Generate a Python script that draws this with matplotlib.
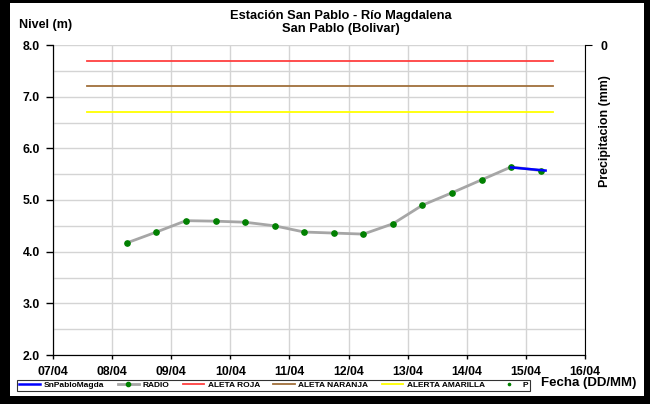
import matplotlib
matplotlib.use("Agg")
import matplotlib.pyplot as plt
import matplotlib.dates as mdates
from matplotlib.patches import Rectangle
from datetime import datetime

plt.rcParams['font.family'] = ['Liberation Sans', 'DejaVu Sans']
plt.rcParams['font.weight'] = 'bold'

# radio readings (every 12 h)
radio_t = ['08/04 06', '08/04 18', '09/04 06', '09/04 18', '10/04 06', '10/04 18',
           '11/04 06', '11/04 18', '12/04 06', '12/04 18', '13/04 06', '13/04 18',
           '14/04 06', '14/04 18', '15/04 06']
radio_v = [4.17, 4.38, 4.60, 4.59, 4.57, 4.50, 4.38, 4.36, 4.34, 4.54, 4.90, 5.14,
           5.39, 5.64, 5.57]

# automatic station
sensor_t = ['14/04 18', '15/04 08']
sensor_v = [5.63, 5.57]

# alert levels
alert_t = ['07/04 14', '15/04 11']
roja = 7.7
naranja = 7.2
amarilla = 6.7

x_start = '07/04 00'
x_end = '16/04 00'


def fecha(s):
    return datetime.strptime('2014/' + s, '%Y/%d/%m %H')


fig = plt.figure(figsize=(6.5, 4.04), dpi=100, facecolor='black')
fig.patches.append(Rectangle((10 / 650, 8 / 404), 634 / 650, 393 / 404,
                             transform=fig.transFigure, facecolor='white',
                             edgecolor='none', zorder=-10))

ax = fig.add_axes([53 / 650, 1 - 355 / 404, 532 / 650, 310 / 404])
ax.patch.set_alpha(0)
ax2 = ax.twinx()

rt = [fecha(s) for s in radio_t]
st = [fecha(s) for s in sensor_t]
at = [fecha(s) for s in alert_t]

h1, = ax.plot(st, sensor_v, color='#0000FF', lw=1.8, zorder=4, label='SnPabloMagda')
h2, = ax.plot(rt, radio_v, color='#A6A6A6', lw=2.0, marker='o', ms=3.8,
              mfc='#008000', mec='#008000', zorder=3, label='RADIO')
h3, = ax.plot(at, [roja, roja], color='#FF4040', lw=1.3, label='ALETA ROJA')
h4, = ax.plot(at, [naranja, naranja], color='#A0703C', lw=1.3, label='ALETA NARANJA')
h5, = ax.plot(at, [amarilla, amarilla], color='#FFFF00', lw=1.3, label='ALERTA AMARILLA')
h6, = ax2.plot([], [], ls='none', marker='.', ms=4, color='#008000', label='P')

ax.set_xlim(fecha(x_start), fecha(x_end))
ax.set_ylim(2.0, 8.0)
ax.set_yticks([2, 3, 4, 5, 6, 7, 8])
ax.set_yticks([2.5, 3.5, 4.5, 5.5, 6.5, 7.5], minor=True)
ax.yaxis.set_major_formatter(matplotlib.ticker.FormatStrFormatter('%.1f'))
ax.xaxis.set_major_locator(mdates.DayLocator())
ax.xaxis.set_major_formatter(mdates.DateFormatter('%d/%m'))

ax.grid(True, which='both', color='#D4D4D4', lw=1)
ax.set_axisbelow(True)
ax.tick_params(axis='y', which='major', length=5, width=1, pad=4.5, labelsize=8.8)
ax.tick_params(axis='y', which='minor', length=0)
ax.tick_params(axis='x', length=3, width=1, pad=5, labelsize=8.8)
for lab in ax.get_xticklabels() + ax.get_yticklabels():
    lab.set_fontweight('bold')

ax.spines['top'].set_visible(False)
ax2.spines['top'].set_visible(False)
ax.spines['right'].set_visible(False)
for sp in ['left', 'bottom']:
    ax.spines[sp].set_color('black')
ax2.spines['right'].set_color('black')

ax2.set_ylim(1, 0)
ax2.set_yticks([0])
ax2.tick_params(axis='y', length=5, pad=6, labelsize=8.8)
for lab in ax2.get_yticklabels():
    lab.set_fontweight('bold')

fig.text(341 / 650, 1 - 16 / 404, 'Estación San Pablo - Río Magdalena',
         ha='center', va='center', fontsize=9.3, fontweight='bold')
fig.text(341 / 650, 1 - 29 / 404, 'San Pablo (Bolivar)',
         ha='center', va='center', fontsize=9.3, fontweight='bold')
fig.text(19 / 650, 1 - 25 / 404, 'Nivel (m)', ha='left', va='center',
         fontsize=9, fontweight='bold')
fig.text(605 / 650, 1 - 131 / 404, 'Precipitacion (mm)', ha='center', va='center',
         rotation=90, fontsize=8.9, fontweight='bold')
fig.text(589 / 650, 1 - 383 / 404, 'Fecha (DD/MM)', ha='center', va='center',
         fontsize=9.5, fontweight='bold')

leg = fig.legend(handles=[h1, h2, h3, h4, h5, h6], ncol=6, mode='expand',
                 loc='lower left',
                 bbox_to_anchor=(17 / 650, 1 - 391 / 404, 513 / 650, 13 / 404),
                 bbox_transform=fig.transFigure, fontsize=6, frameon=True,
                 fancybox=False, edgecolor='black', borderpad=0.2,
                 handlelength=2.6, handletextpad=0.4, borderaxespad=0,
                 markerscale=0.8)
leg.get_frame().set_linewidth(0.8)
for t in leg.get_texts():
    t.set_fontweight('bold')

fig.savefig('out.png', dpi=100, facecolor=fig.get_facecolor())
